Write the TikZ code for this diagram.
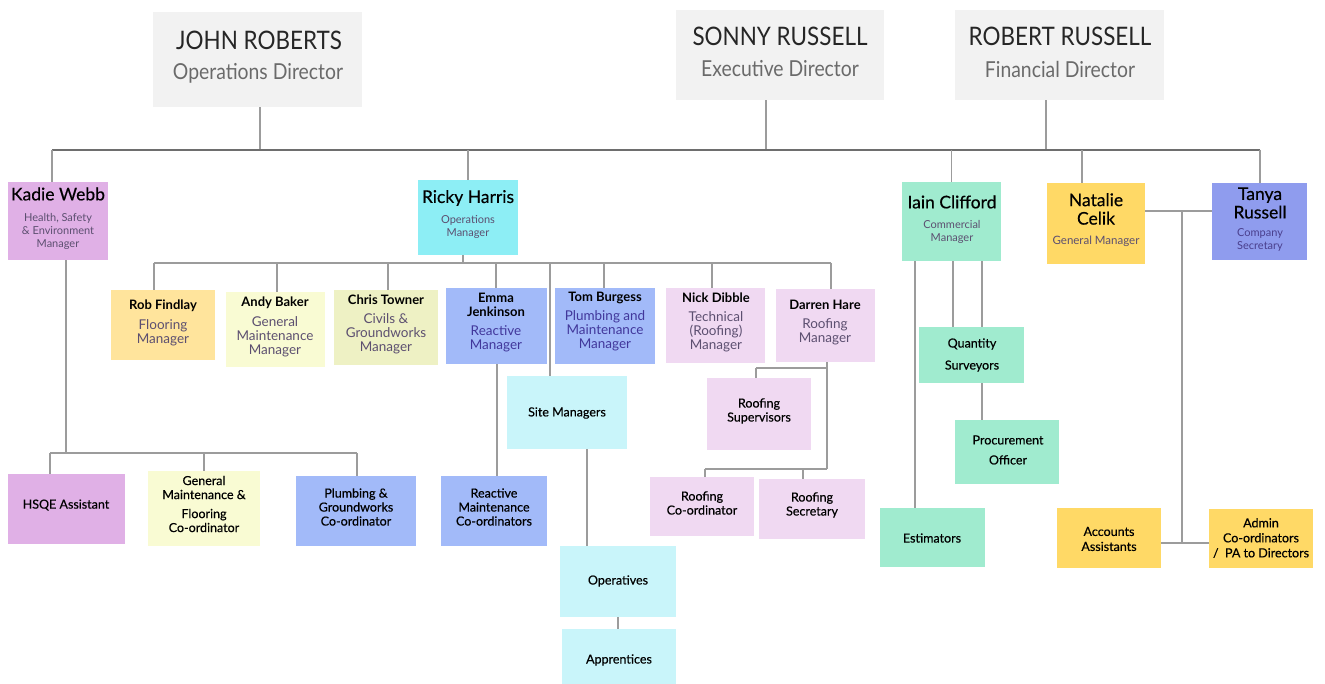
\documentclass[tikz,border=0pt]{standalone}
\usepackage{fontspec}
\setmainfont{Lato}
\newfontfamily\condfont[FakeStretch=0.88]{Lato}
\newfontfamily\medfont[FakeBold=0.4]{Lato}
\definecolor{cgray}{HTML}{F2F2F2}
\definecolor{clilac}{HTML}{E0B0E6}
\definecolor{ccyan}{HTML}{8DEEF5}
\definecolor{cmint}{HTML}{A0EBCF}
\definecolor{cyellow}{HTML}{FFD966}
\definecolor{ctanya}{HTML}{8F9CEE}
\definecolor{corange}{HTML}{FFE49C}
\definecolor{cpale}{HTML}{F9FBD3}
\definecolor{colive}{HTML}{EEF1C4}
\definecolor{cblue}{HTML}{A2BAF9}
\definecolor{cpink}{HTML}{F0D9F2}
\definecolor{cpcyan}{HTML}{C9F5FA}
\definecolor{titlec}{HTML}{5C4F70}
\definecolor{dirt}{HTML}{6A6A6A}
\definecolor{linec}{HTML}{9C9C9C}
\definecolor{busc}{HTML}{6E6E6E}
\newcommand\mkbox[6]{\node[box,fill=#6,minimum width={(#4-#2)*1pt},minimum height={(#5-#3)*1pt}] (#1) at ({(#2+#4)/2},{(#3+#5)/2}) {};}
\tikzset{
  box/.style={rectangle,inner sep=0pt,draw=none},
  dname/.style={font=\condfont\fontsize{25.5}{27}\selectfont,text=black!85,inner sep=0pt},
  dtitle/.style={font=\condfont\fontsize{22}{24}\selectfont,text=dirt,inner sep=0pt},
  bname/.style={font=\medfont\fontsize{17.5}{18.5}\selectfont,text=black,inner sep=0pt,align=center},
  stitle/.style={font=\fontsize{11}{13}\selectfont,text=titlec,inner sep=0pt,align=center},
  mname/.style={font=\bfseries\fontsize{13}{13.5}\selectfont,text=black,inner sep=0pt,align=center},
  mtitle/.style={font=\fontsize{13.5}{14}\selectfont,text=titlec,inner sep=0pt,align=center},
  lab/.style={font=\medfont\fontsize{12.5}{14}\selectfont,text=black,inner sep=0pt,align=center},
  ln/.style={draw=linec,line width=1.2pt},
  busln/.style={draw=busc,line width=1.4pt}
}
\begin{document}
\begin{tikzpicture}[x=1pt,y=-1pt]
\useasboundingbox[fill=white] (0,0) rectangle (1325,684);
% boxes
\mkbox{jr}{153}{12}{362}{107}{cgray}
\mkbox{sr}{676}{10}{884}{100}{cgray}
\mkbox{rr}{955}{10}{1164}{100}{cgray}
\mkbox{kw}{8}{182}{108}{260}{clilac}
\mkbox{rh}{418}{180}{518}{255}{ccyan}
\mkbox{ic}{902}{182}{1001}{261}{cmint}
\mkbox{nc}{1047}{183}{1145}{264}{cyellow}
\mkbox{tr}{1212}{183}{1307}{260}{ctanya}
\mkbox{rf}{111}{290}{215}{360}{corange}
\mkbox{ab}{226}{292}{325}{367}{cpale}
\mkbox{ct}{334}{290}{438}{365}{colive}
\mkbox{ej}{446}{288}{547}{364}{cblue}
\mkbox{tb}{555}{288}{655}{364}{cblue}
\mkbox{nd}{666}{288}{765}{363}{cpink}
\mkbox{dh}{776}{289}{875}{362}{cpink}
\mkbox{sm}{507}{376}{627}{449}{cpcyan}
\mkbox{rs}{707}{378}{811}{450}{cpink}
\mkbox{qs}{919}{327}{1024}{383}{cmint}
\mkbox{po}{955}{420}{1059}{484}{cmint}
\mkbox{hq}{8}{474}{125}{544}{clilac}
\mkbox{gm}{148}{471}{260}{546}{cpale}
\mkbox{pg}{296}{476}{416}{546}{cblue}
\mkbox{rc}{441}{476}{547}{546}{cblue}
\mkbox{rco}{650}{477}{754}{536}{cpink}
\mkbox{rse}{759}{479}{865}{539}{cpink}
\mkbox{es}{880}{508}{985}{567}{cmint}
\mkbox{aa}{1057}{508}{1161}{568}{cyellow}
\mkbox{ad}{1209}{509}{1313}{568}{cyellow}
\mkbox{op}{560}{546}{676}{617}{cpcyan}
\mkbox{ap}{562}{629}{676}{684}{cpcyan}
% directors text
\node[dname] (jrn) at (259,40) {JOHN ROBERTS};
\node[dtitle] (jrt) at (258,73) {Operations Director};
\node[dname] (srn) at (780,36) {SONNY RUSSELL};
\node[dtitle] (srt) at (780,69) {Executive Director};
\node[dname] (rrn) at (1060,36) {ROBERT RUSSELL};
\node[dtitle] (rrt) at (1060,69) {Financial Director};
% second level
\node[bname] (kwn) at (58,194) {Kadie Webb};
\node[stitle] (kwt) at (58,231) {Health, Safety\\\& Environment\\Manager};
\node[bname] (rhn) at (468,198) {Ricky Harris};
\node[stitle] (rht) at (468,227) {Operations\\Manager};
\node[bname] (icn) at (952,202) {Iain Clifford};
\node[stitle] (ict) at (952,232) {Commercial\\Manager};
\node[bname] (ncn) at (1096,209) {Natalie\\Celik};
\node[stitle,font=\fontsize{11.5}{13}\selectfont] (nct) at (1096,241) {General Manager};
\node[bname] (trn) at (1260,203) {Tanya\\Russell};
\node[stitle,text=titlec!80!blue] (trt) at (1260,240) {Company\\Secretary};
% managers
\node[mname] (rfn) at (163,306) {Rob Findlay};
\node[mtitle] (rft) at (163,333) {Flooring\\Manager};
\node[mname] (abn) at (275,303) {Andy Baker};
\node[mtitle] (abt) at (275,337) {General\\Maintenance\\Manager};
\node[mname] (ctn) at (386,300) {Chris Towner};
\node[mtitle] (ctt) at (386,334) {Civils \&\\Groundworks\\Manager};
\node[mname] (ejn) at (496,305) {Emma\\Jenkinson};
\node[mtitle,text=titlec!70!blue] (ejt) at (496,339) {Reactive\\Manager};
\node[mname] (tbn) at (605,298) {Tom Burgess};
\node[mtitle,text=titlec!70!blue] (tbt) at (605,331) {Plumbing and\\Maintenance\\Manager};
\node[mname] (ndn) at (716,298) {Nick Dibble};
\node[mtitle] (ndt) at (716,332) {Technical\\(Roofing)\\Manager};
\node[mname] (dhn) at (825,305) {Darren Hare};
\node[mtitle] (dht) at (825,332) {Roofing\\Manager};
% lower labels
\node[lab] (sml) at (567,413) {Site Managers};
\node[lab] (rsl) at (759,411) {Roofing\\Supervisors};
\node[lab,font=\medfont\fontsize{12.5}{22}\selectfont] (qsl) at (972,355) {Quantity\\Surveyors};
\node[lab,font=\medfont\fontsize{12.5}{20}\selectfont] (pol) at (1008,450) {Procurement\\Officer};
\node[lab] (hql) at (66,505) {HSQE Assistant};
\node[lab] (gml) at (204,504) {General\\Maintenance \&\\[5pt]Flooring\\Co-ordinator};
\node[lab] (pgl) at (356,507) {Plumbing \&\\Groundworks\\Co-ordinator};
\node[lab] (rcl) at (494,507) {Reactive\\Maintenance\\Co-ordinators};
\node[lab] (rcol) at (702,503) {Roofing\\Co-ordinator};
\node[lab] (rsel) at (812,505) {Roofing\\Secretary};
\node[lab] (esl) at (932,538) {Estimators};
\node[lab,font=\medfont\fontsize{12.5}{15}\selectfont] (aal) at (1109,539) {Accounts\\Assistants};
\node[lab,font=\medfont\fontsize{12.5}{15}\selectfont] (adl) at (1261,538) {Admin\\Co-ordinators\\/\ \ PA to Directors};
\node[lab] (opl) at (618,581) {Operatives};
\node[lab] (apl) at (619,660) {Apprentices};
% connectors: directors and main bus
\coordinate (busL) at (52,150);
\coordinate (busR) at (1260,150);
\draw[ln] (260,0 |- jr.south) -- (260,150);
\draw[ln] (766,0 |- sr.south) -- (766,150);
\draw[ln] (1046,0 |- rr.south) -- (1046,150);
\draw[busln] (busL) -- (busR);
\draw[ln] (busL) -- (52,0 |- kw.north);
\draw[ln] (rh.north |- busL) -- (rh.north);
\draw[ln] (ic.north |- busL) -- (ic.north);
\draw[ln] (1082,150) -- (1082,0 |- nc.north);
\draw[ln] (busR) -- (1260,0 |- tr.north);
% Kadie
\draw[ln] (66,0 |- kw.south) -- (66,453);
\draw[ln] (50,453) -- (357,453);
\draw[ln] (50,453) -- (50,0 |- hq.north);
\draw[ln] (204,453) -- (204,0 |- gm.north);
\draw[ln] (357,453) -- (357,0 |- pg.north);
% Ricky
\draw[ln] (463,0 |- rh.south) -- (463,263);
\draw[ln] (154,263) -- (831,263);
\draw[ln] (154,263) -- (154,0 |- rf.north);
\draw[ln] (277,263) -- (277,0 |- ab.north);
\draw[ln] (388,263) -- (388,0 |- ct.north);
\draw[ln] (496,263) -- (496,0 |- ej.north);
\draw[ln] (550,263) -- (550,0 |- sm.north);
\draw[ln] (604,263) -- (604,0 |- tb.north);
\draw[ln] (712,263) -- (712,0 |- nd.north);
\draw[ln] (831,263) -- (831,0 |- dh.north);
\draw[ln] (497,0 |- ej.south) -- (497,0 |- rc.north);
\draw[ln] (587,0 |- sm.south) -- (587,0 |- op.north);
\draw[ln] (618,0 |- op.south) -- (618,0 |- ap.north);
% Darren
\draw[ln] (827,0 |- dh.south) -- (827,469);
\draw[ln] (756,368) -- (827,368);
\draw[ln] (756,368) -- (756,0 |- rs.north);
\draw[ln] (705,469) -- (827,469);
\draw[ln] (705,469) -- (705,0 |- rco.north);
\draw[ln] (803,469) -- (803,0 |- rse.north);
% Iain
\draw[ln] (915,0 |- ic.south) -- (915,0 |- es.north);
\draw[ln] (953,0 |- ic.south) -- (953,0 |- qs.north);
\draw[ln] (982,0 |- ic.south) -- (982,0 |- qs.north);
\draw[ln] (982,0 |- qs.south) -- (982,0 |- po.north);
% Natalie / Tanya
\draw[ln] (nc.east |- 0,211) -- (tr.west |- 0,211);
\draw[ln] (1182,211) -- (1182,543);
\draw[ln] (aa.east |- 0,543) -- (ad.west |- 0,543);
\end{tikzpicture}
\end{document}
